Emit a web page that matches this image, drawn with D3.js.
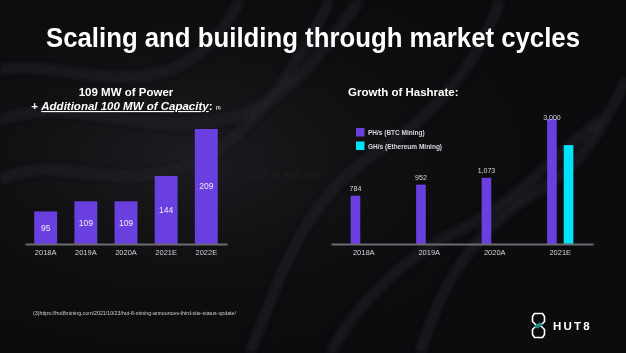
<!DOCTYPE html>
<html>
<head>
<meta charset="utf-8">
<script src="https://d3js.org/d3.v7.min.js"></script>
<style>
  html, body { margin: 0; padding: 0; background: #0c0c0e; }
  svg { display: block; font-family: "Liberation Sans", Arial, sans-serif; }
</style>
</head>
<body>
<svg width="626" height="353" id="mainSvg"></svg>
<script>
// power chart data (MW)
const powerYears = ["2018A", "2019A", "2020A", "2021E", "2022E"];
const powerValues = [95, 109, 109, 144, 209];

// hashrate chart data
const hashYears = ["2018A", "2019A", "2020A", "2021E"];
const hashSeries = ["PH/s (BTC Mining)", "GH/s (Ethereum Mining)"];
const btcValues = [784, 952, 1073, 3000];
const ethValues = [null, null, null, 1900];
const btcLabels = ["784", "952", "1,073", "3,000"];

const purple = "#6a3fe0";
const cyan = "#00e4fb";

const svg = d3.select("#mainSvg");
const W = +svg.attr("width"), H = +svg.attr("height");

// background with soft swirls
svg.append("rect").attr("width", W).attr("height", H).attr("fill", "#0c0c0e");
const defs = svg.append("defs");
const grad = defs.append("radialGradient").attr("id", "glow").attr("cx", "0.3").attr("cy", "0.45").attr("r", "0.6");
grad.append("stop").attr("offset", "0%").attr("stop-color", "#1d1d21");
grad.append("stop").attr("offset", "100%").attr("stop-color", "#0c0c0e").attr("stop-opacity", 0);
svg.append("rect").attr("width", W).attr("height", H).attr("fill", "url(#glow)");
defs.append("filter").attr("id", "soft")
  .append("feGaussianBlur").attr("stdDeviation", 3);

const swirls = [
  "M0,120 C80,90 160,150 250,110 C300,90 330,40 360,0",
  "M0,180 C60,150 120,200 200,160 C260,130 300,60 330,0",
  "M250,353 C280,280 300,200 380,150 C440,110 480,60 500,0",
  "M420,353 C440,290 470,230 540,190 C590,160 610,110 626,80",
  "M0,70 C50,60 110,90 170,70 C210,55 230,20 240,0",
  "M330,353 C360,300 400,260 460,230 C520,200 560,150 600,120"
];
svg.append("g").attr("filter", "url(#soft)")
  .selectAll("path").data(swirls).join("path")
  .attr("d", d => d)
  .attr("fill", "none")
  .attr("stroke", "#202025")
  .attr("stroke-width", 8)
  .attr("opacity", 0.8);

// main title
svg.append("text")
  .attr("x", W / 2).attr("y", 47)
  .attr("text-anchor", "middle")
  .attr("fill", "#ffffff")
  .attr("font-weight", "bold")
  .attr("font-size", 27)
  .attr("textLength", 534)
  .attr("lengthAdjust", "spacingAndGlyphs")
  .text("Scaling and building through market cycles");

// ---------- left chart: power ----------
const x0 = d3.scaleBand().domain(powerYears).range([25, 227]).paddingInner(0.43).paddingOuter(0.23);
const y0 = d3.scaleLinear().domain([50, 230]).range([244, 244 - 180 * 0.7233]);

const left = svg.append("g");

left.append("text")
  .attr("x", 126).attr("y", 96)
  .attr("text-anchor", "middle").attr("fill", "#fff")
  .attr("font-weight", "bold").attr("font-size", 11.5)
  .text("109 MW of Power");

const sub = left.append("text")
  .attr("x", 126).attr("y", 110)
  .attr("text-anchor", "middle").attr("fill", "#fff")
  .attr("font-weight", "bold").attr("font-size", 11.5);
sub.append("tspan").text("+ ");
sub.append("tspan").attr("font-style", "italic").attr("text-decoration", "underline")
  .text("Additional 100 MW of Capacity");
sub.append("tspan").text(": ");
sub.append("tspan").attr("font-size", 4).attr("dy", -1).text("(1)");

left.selectAll("rect.bar").data(powerValues).join("rect")
  .attr("class", "bar")
  .attr("x", (d, i) => x0(powerYears[i]))
  .attr("y", d => y0(d))
  .attr("width", x0.bandwidth())
  .attr("height", d => y0(50) - y0(d))
  .attr("fill", purple);

left.selectAll("text.val").data(powerValues).join("text")
  .attr("class", "val")
  .attr("x", (d, i) => x0(powerYears[i]) + x0.bandwidth() / 2)
  .attr("y", d => (y0(d) + y0(50)) / 2 + 3)
  .attr("text-anchor", "middle").attr("fill", "#ececf5")
  .attr("font-size", 8.5)
  .text(d => d);

const ax0 = left.append("g")
  .attr("transform", "translate(0,244)")
  .call(d3.axisBottom(x0).tickSize(0).tickPadding(6));
ax0.select(".domain").attr("stroke", "#6c6c70").attr("stroke-width", 2);
ax0.selectAll("text").attr("fill", "#d4d4d8").attr("font-size", 7.5)
  .attr("font-family", "Liberation Sans, Arial, sans-serif");

// placeholder text
svg.append("text")
  .attr("x", 246).attr("y", 178)
  .attr("fill", "#1f1f22")
  .attr("font-size", 10.5)
  .text("Click to add text");

// ---------- right chart: hashrate ----------
const x1 = d3.scaleBand().domain(hashYears).range([331, 593]);
const xs = d3.scaleBand().domain(hashSeries)
  .range([x1.bandwidth() * 0.3, x1.bandwidth() * 0.7]).paddingInner(0.42);
const y1 = d3.scaleLog().domain([337, 3000]).range([244, 119]);

const right = svg.append("g");

right.append("text")
  .attr("x", 348).attr("y", 96)
  .attr("fill", "#fff")
  .attr("font-weight", "bold").attr("font-size", 11.5)
  .text("Growth of Hashrate:");

const rows = hashYears.map((yr, i) => ({ yr, btc: btcValues[i], eth: ethValues[i], label: btcLabels[i] }));

right.selectAll("rect.btc").data(rows).join("rect")
  .attr("class", "btc")
  .attr("x", d => x1(d.yr) + xs(hashSeries[0]))
  .attr("y", d => y1(d.btc))
  .attr("width", xs.bandwidth())
  .attr("height", d => y1(337) - y1(d.btc))
  .attr("fill", purple);

right.selectAll("rect.eth").data(rows.filter(d => d.eth != null)).join("rect")
  .attr("class", "eth")
  .attr("x", d => x1(d.yr) + xs(hashSeries[1]))
  .attr("y", d => y1(d.eth))
  .attr("width", xs.bandwidth())
  .attr("height", d => y1(337) - y1(d.eth))
  .attr("fill", cyan);

right.selectAll("text.val").data(rows).join("text")
  .attr("class", "val")
  .attr("x", d => x1(d.yr) + xs(hashSeries[0]) + xs.bandwidth() / 2)
  .attr("y", d => Math.max(y1(d.btc) - 5, 120))
  .attr("text-anchor", "middle").attr("fill", "#d8d8dc")
  .attr("font-size", 7)
  .text(d => d.label);

const ax1 = right.append("g")
  .attr("transform", "translate(0,244)")
  .call(d3.axisBottom(x1).tickSize(0).tickPadding(6));
ax1.select(".domain").attr("stroke", "#6c6c70").attr("stroke-width", 2);
ax1.selectAll("text").attr("fill", "#d4d4d8").attr("font-size", 7.5)
  .attr("font-family", "Liberation Sans, Arial, sans-serif");

// legend
const legend = right.append("g").attr("transform", "translate(356,128)");
const li = legend.selectAll("g").data(hashSeries).join("g")
  .attr("transform", (d, i) => `translate(0,${i * 13.5})`);
li.append("rect").attr("width", 8.5).attr("height", 8.5)
  .attr("fill", (d, i) => i === 0 ? purple : cyan);
li.append("text").attr("x", 12).attr("y", 7)
  .attr("fill", "#d8d8dc").attr("font-size", 6.5).attr("font-weight", "bold")
  .text(d => d);

// footnote
svg.append("text")
  .attr("x", 33).attr("y", 315)
  .attr("fill", "#d0d0d0").attr("font-size", 6.2)
  .attr("textLength", 203).attr("lengthAdjust", "spacingAndGlyphs")
  .text("(3)https://hut8mining.com/2021/10/23/hut-8-mining-announces-third-site-status-update/");

// logo
const logo = svg.append("g").attr("transform", "translate(538.5,325.5)");
logo.append("path")
  .attr("d", "M-4,-12 L4,-12 L6,-9 L6,-4 L2,0 L6,4 L6,9 L4,12 L-4,12 L-6,9 L-6,4 L-2,0 L-6,-4 L-6,-9 Z")
  .attr("fill", "none").attr("stroke", "#ffffff").attr("stroke-width", 1.6)
  .attr("stroke-linejoin", "round");
logo.append("path")
  .attr("d", "M-5,1 L1,-3 L5,-1 L-1,3 Z")
  .attr("fill", "#1f8f86");
svg.append("text")
  .attr("x", 553).attr("y", 330)
  .attr("fill", "#ffffff").attr("font-size", 11.5).attr("font-weight", "bold")
  .attr("letter-spacing", 2.2)
  .text("HUT8");
</script>
</body>
</html>
